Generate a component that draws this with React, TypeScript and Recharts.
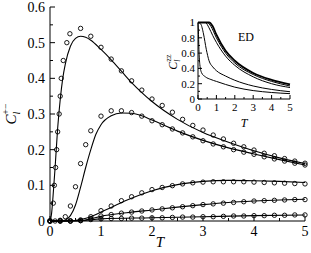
import React from "react";
import { ComposedChart, Line, XAxis, YAxis } from "recharts";

const FONT = '"Liberation Serif", "Times New Roman", serif';

// ---- main panel: C_l^{+-}(T), points = data, lines = theory ----
const s1Pts: [number, number][] = [
  [0, 0], [0.065, 0.05], [0.085, 0.1], [0.11, 0.15], [0.13, 0.2], [0.15, 0.25],
  [0.18, 0.3], [0.2, 0.35], [0.22, 0.4], [0.26, 0.45], [0.33, 0.5], [0.39, 0.525],
  [0.6, 0.54], [0.8, 0.518], [1.0, 0.487], [1.2, 0.454], [1.4, 0.421], [1.6, 0.393],
  [1.8, 0.367], [2.0, 0.342], [2.2, 0.324], [2.4, 0.305], [2.6, 0.285], [2.8, 0.268],
  [3.0, 0.255], [3.2, 0.241], [3.4, 0.23], [3.6, 0.218], [3.8, 0.208], [4.0, 0.199],
  [4.2, 0.19], [4.4, 0.183], [4.6, 0.175], [4.8, 0.168], [5.0, 0.162],
];
const s2Pts: [number, number][] = [
  [0, 0], [0.1, 0], [0.2, 0.002], [0.3, 0.012], [0.4, 0.042], [0.5, 0.096],
  [0.6, 0.161], [0.7, 0.214], [0.8, 0.253], [1.0, 0.294], [1.2, 0.309], [1.4, 0.309],
  [1.6, 0.304], [1.8, 0.294], [2.0, 0.281], [2.2, 0.27], [2.4, 0.258], [2.6, 0.247],
  [2.8, 0.236], [3.0, 0.225], [3.2, 0.216], [3.4, 0.208], [3.6, 0.2], [3.8, 0.193],
  [4.0, 0.187], [4.2, 0.18], [4.4, 0.174], [4.6, 0.168], [4.8, 0.162], [5.0, 0.157],
];
const s3Pts: [number, number][] = [
  [0, 0], [0.2, 0], [0.4, 0], [0.6, 0.003], [0.8, 0.012], [1.0, 0.029], [1.2, 0.042],
  [1.4, 0.057], [1.6, 0.068], [1.8, 0.079], [2.0, 0.088], [2.2, 0.094], [2.4, 0.099],
  [2.6, 0.104], [2.8, 0.107], [3.0, 0.109], [3.2, 0.11], [3.4, 0.11], [3.6, 0.11],
  [3.8, 0.11], [4.0, 0.109], [4.2, 0.108], [4.4, 0.107], [4.6, 0.106], [4.8, 0.105],
  [5.0, 0.104],
];
const s4Pts: [number, number][] = [
  [0, 0], [0.2, 0], [0.4, 0], [0.6, 0.001], [0.8, 0.007], [1.0, 0.014], [1.2, 0.018],
  [1.4, 0.022], [1.6, 0.025], [1.8, 0.028], [2.0, 0.031], [2.2, 0.034], [2.4, 0.037],
  [2.6, 0.04], [2.8, 0.043], [3.0, 0.046], [3.2, 0.048], [3.4, 0.05], [3.6, 0.052],
  [3.8, 0.054], [4.0, 0.056], [4.2, 0.057], [4.4, 0.058], [4.6, 0.059], [4.8, 0.06],
  [5.0, 0.06],
];
const s5Pts: [number, number][] = [
  [0, 0], [0.2, 0], [0.4, 0], [0.6, 0.001], [0.8, 0.004], [1.0, 0.006], [1.2, 0.007],
  [1.4, 0.007], [1.6, 0.008], [1.8, 0.008], [2.0, 0.009], [2.2, 0.009], [2.4, 0.01],
  [2.6, 0.011], [2.8, 0.011], [3.0, 0.012], [3.2, 0.012], [3.4, 0.013], [3.6, 0.014],
  [3.8, 0.014], [4.0, 0.015], [4.2, 0.015], [4.4, 0.016], [4.6, 0.016], [4.8, 0.017],
  [5.0, 0.017],
];

const s1Line: [number, number][] = [
  [0, 0], [0.03, 0.02], [0.06, 0.07], [0.1, 0.15], [0.15, 0.26], [0.2, 0.34],
  [0.25, 0.4], [0.3, 0.44], [0.4, 0.49], [0.5, 0.512], [0.6, 0.518], [0.7, 0.515],
  [0.8, 0.507], [1.0, 0.481], [1.2, 0.452], [1.4, 0.42], [1.6, 0.388], [1.8, 0.36],
  [2.0, 0.335], [2.5, 0.285], [3.0, 0.248], [3.5, 0.221], [4.0, 0.197], [4.5, 0.177],
  [5.0, 0.161],
];
const s2Line: [number, number][] = [
  [0, 0], [0.2, 0], [0.3, 0.003], [0.4, 0.015], [0.5, 0.045], [0.6, 0.095],
  [0.7, 0.15], [0.8, 0.2], [0.9, 0.243], [1.0, 0.27], [1.2, 0.295], [1.4, 0.303],
  [1.6, 0.302], [1.8, 0.295], [2.0, 0.283], [2.5, 0.252], [3.0, 0.226], [3.5, 0.205],
  [4.0, 0.188], [4.5, 0.172], [5.0, 0.157],
];
const s3Line: [number, number][] = [
  [0, 0], [0.4, 0], [0.6, 0.004], [0.8, 0.012], [1.0, 0.025], [1.2, 0.038],
  [1.5, 0.058], [2.0, 0.085], [2.5, 0.102], [3.0, 0.111], [3.5, 0.114], [4.0, 0.113],
  [4.5, 0.111], [5.0, 0.108],
];
const s4Line: [number, number][] = [
  [0, 0], [0.6, 0.001], [0.8, 0.006], [1.0, 0.013], [1.5, 0.023], [2.0, 0.031],
  [2.5, 0.039], [3.0, 0.046], [3.5, 0.052], [4.0, 0.056], [4.5, 0.059], [5.0, 0.061],
];
const s5Line: [number, number][] = [
  [0, 0], [0.6, 0.001], [1.0, 0.006], [2.0, 0.009], [3.0, 0.012], [4.0, 0.015],
  [5.0, 0.017],
];

// ---- inset: C_l^{zz}(T), exact diagonalization ----
const edA: [number, number][] = [
  [0, 1], [0.02, 0.9], [0.05, 0.65], [0.1, 0.45], [0.2, 0.34], [0.4, 0.29],
  [0.7, 0.255], [1, 0.23], [1.5, 0.19], [2, 0.155], [3, 0.11], [4, 0.085], [5, 0.07],
];
const edB: [number, number][] = [
  [0, 1], [0.15, 0.98], [0.3, 0.85], [0.45, 0.65], [0.6, 0.5], [0.8, 0.42],
  [1, 0.37], [1.5, 0.3], [2, 0.245], [3, 0.17], [4, 0.125], [5, 0.095],
];
const edC: [number, number][] = [
  [0, 1], [0.4, 1], [0.6, 0.93], [0.8, 0.83], [1, 0.74], [1.5, 0.56], [2, 0.44],
  [3, 0.29], [4, 0.2], [5, 0.15],
];
const edD: [number, number][] = [
  [0, 1], [0.5, 1], [0.7, 0.95], [1, 0.8], [1.5, 0.6], [2, 0.47], [3, 0.32],
  [4, 0.23], [5, 0.17],
];
const edE: [number, number][] = [
  [0, 1], [0.6, 1], [0.8, 0.95], [1, 0.84], [1.5, 0.63], [2, 0.5], [3, 0.34],
  [4, 0.25], [5, 0.19],
];

const xTicks = [0, 0.5, 1, 1.5, 2, 2.5, 3, 3.5, 4, 4.5, 5];
const mainYTicks = [0, 0.05, 0.1, 0.15, 0.2, 0.25, 0.3, 0.35, 0.4, 0.45, 0.5, 0.55, 0.6];
const insetYTicks = [0, 0.1, 0.2, 0.3, 0.4, 0.5, 0.6, 0.7, 0.8, 0.9, 1];

const pts = (a: [number, number][]) => a.map(([T, C]) => ({ T, C }));

const isInt = (v: number) => Math.abs(v - Math.round(v)) < 1e-6;
const isTenth = (v: number) => Math.abs(v * 10 - Math.round(v * 10)) < 1e-6;
const isFifth = (v: number) => Math.abs(v * 5 - Math.round(v * 5)) < 1e-6;

// inward ticks on all four sides, labels only on bottom/left majors
const makeTick =
  (side: "b" | "l" | "t" | "r", isMajor: (v: number) => boolean, fmt: (v: number) => string,
   big: number, small: number, fs: number, gap: number) =>
  (props: any) => {
    const { x, y, payload } = props;
    const v = payload.value as number;
    const major = isMajor(v);
    const L = major ? big : small;
    if (side === "b")
      return (
        <g>
          <line x1={x} y1={y} x2={x} y2={y - L} stroke="#000" strokeWidth={1} />
          {major && (
            <text x={x} y={y + gap} dy="0.71em" textAnchor="middle" fontSize={fs} fontFamily={FONT} fill="#000">
              {fmt(v)}
            </text>
          )}
        </g>
      );
    if (side === "l")
      return (
        <g>
          <line x1={x} y1={y} x2={x + L} y2={y} stroke="#000" strokeWidth={1} />
          {major && (
            <text x={x - gap} y={y} dy="0.35em" textAnchor="end" fontSize={fs} fontFamily={FONT} fill="#000">
              {fmt(v)}
            </text>
          )}
        </g>
      );
    if (side === "t") return <line x1={x} y1={y} x2={x} y2={y + L} stroke="#000" strokeWidth={1} />;
    return <line x1={x} y1={y} x2={x - L} y2={y} stroke="#000" strokeWidth={1} />;
  };

const fmtInt = (v: number) => String(Math.round(v));
const fmtDec = (v: number) => (v === 0 ? "0" : isInt(v) ? String(v) : v.toFixed(1));

const mainLines = [s1Line, s2Line, s3Line, s4Line, s5Line];
const mainPts = [s1Pts, s2Pts, s3Pts, s4Pts, s5Pts];
const edCurves = [edA, edB, edC, edD, edE];

export default function App() {
  return (
    <div style={{ position: "absolute", left: 0, top: 0, width: 311, height: 253, background: "#fff" }}>
      <ComposedChart width={311} height={253} margin={{ top: 7, right: 6, bottom: 0, left: 0 }}>
        <XAxis
          xAxisId="b" dataKey="T" type="number" domain={[0, 5]} ticks={xTicks} interval={0}
          height={32} tickSize={0} tickMargin={0} stroke="#000"
          tick={makeTick("b", isInt, fmtInt, 5, 3, 14, 5)}
          label={(p: any) => (
            <text x={160} y={247} textAnchor="middle" fontSize={15} fontStyle="italic" fontFamily={FONT}>T</text>
          )}
        />
        <XAxis
          xAxisId="t" dataKey="T" type="number" domain={[0, 5]} ticks={xTicks} interval={0}
          orientation="top" height={0} tickSize={0} tickMargin={0} stroke="#000"
          tick={makeTick("t", isInt, fmtInt, 5, 3, 14, 5)}
        />
        <YAxis
          yAxisId="l" type="number" domain={[0, 0.6]} ticks={mainYTicks} interval={0}
          width={50} tickSize={0} tickMargin={0} stroke="#000"
          tick={makeTick("l", isTenth, fmtDec, 5, 3, 14, 5)}
          label={(p: any) => (
            <text transform="translate(16,114) rotate(-90)" textAnchor="middle" fontFamily={FONT} fontSize={15}>
              <tspan fontStyle="italic">C</tspan>
              <tspan fontStyle="italic" fontSize={10} dy={4}>l</tspan>
              <tspan fontSize={10} dx={-3} dy={-11}>+−</tspan>
            </text>
          )}
        />
        <YAxis
          yAxisId="r" type="number" domain={[0, 0.6]} ticks={mainYTicks} interval={0}
          orientation="right" width={0} tickSize={0} tickMargin={0} stroke="#000"
          tick={makeTick("r", isTenth, fmtDec, 5, 3, 14, 5)}
        />
        <Line
          xAxisId="t" yAxisId="r" data={pts(s5Line)} dataKey="C" stroke="none" dot={false}
          activeDot={false} isAnimationActive={false}
        />
        {mainLines.map((d, i) => (
          <Line
            key={"l" + i} xAxisId="b" yAxisId="l" data={pts(d)} dataKey="C" type="monotone"
            stroke="#000" strokeWidth={1.1} dot={false} activeDot={false} isAnimationActive={false}
          />
        ))}
        {mainPts.map((d, i) => (
          <Line
            key={"p" + i} xAxisId="b" yAxisId="l" data={pts(d)} dataKey="C" stroke="none"
            dot={{ r: 2.2, stroke: "#000", strokeWidth: 0.9, fill: "none" }}
            activeDot={false} isAnimationActive={false}
          />
        ))}
      </ComposedChart>

      <div style={{ position: "absolute", left: 160, top: 14 }}>
        <ComposedChart width={135} height={116} margin={{ top: 8.5, right: 5, bottom: 0, left: 0 }}>
          <XAxis
            xAxisId="b" dataKey="T" type="number" domain={[0, 5]} ticks={xTicks} interval={0}
            height={31} tickSize={0} tickMargin={0} stroke="#000"
            tick={makeTick("b", isInt, fmtInt, 4, 2, 11, 4)}
            label={(p: any) => (
              <text x={84} y={113} textAnchor="middle" fontSize={12} fontStyle="italic" fontFamily={FONT}>T</text>
            )}
          />
          <XAxis
            xAxisId="t" dataKey="T" type="number" domain={[0, 5]} ticks={xTicks} interval={0}
            orientation="top" height={0} tickSize={0} tickMargin={0} stroke="#000"
            tick={makeTick("t", isInt, fmtInt, 4, 2, 11, 4)}
          />
          <YAxis
            yAxisId="l" type="number" domain={[0, 1]} ticks={insetYTicks} interval={0}
            width={38} tickSize={0} tickMargin={0} stroke="#000"
            tick={makeTick("l", isFifth, fmtDec, 4, 2, 11, 3)}
            label={(p: any) => (
              <text transform="translate(17,48) rotate(-90)" textAnchor="middle" fontFamily={FONT} fontSize={12}>
                <tspan fontStyle="italic">C</tspan>
                <tspan fontStyle="italic" fontSize={8} dy={3}>l</tspan>
                <tspan fontSize={8} dx={-2} dy={-9}>zz</tspan>
              </text>
            )}
          />
          <YAxis
            yAxisId="r" type="number" domain={[0, 1]} ticks={insetYTicks} interval={0}
            orientation="right" width={0} tickSize={0} tickMargin={0} stroke="#000"
            tick={makeTick("r", isFifth, fmtDec, 4, 2, 11, 3)}
          />
          <Line
            xAxisId="t" yAxisId="r" data={pts(edA)} dataKey="C" stroke="none" dot={false}
            activeDot={false} isAnimationActive={false}
          />
          {edCurves.map((d, i) => (
            <Line
              key={"e" + i} xAxisId="b" yAxisId="l" data={pts(d)} dataKey="C" type="monotone"
              stroke="#000" strokeWidth={i === 4 ? 1.8 : 1} dot={false} activeDot={false}
              isAnimationActive={false}
            />
          ))}
        </ComposedChart>
        <div
          style={{
            position: "absolute", left: 78, top: 16, fontFamily: FONT, fontSize: 12, lineHeight: "14px",
          }}
        >
          ED
        </div>
      </div>
    </div>
  );
}
